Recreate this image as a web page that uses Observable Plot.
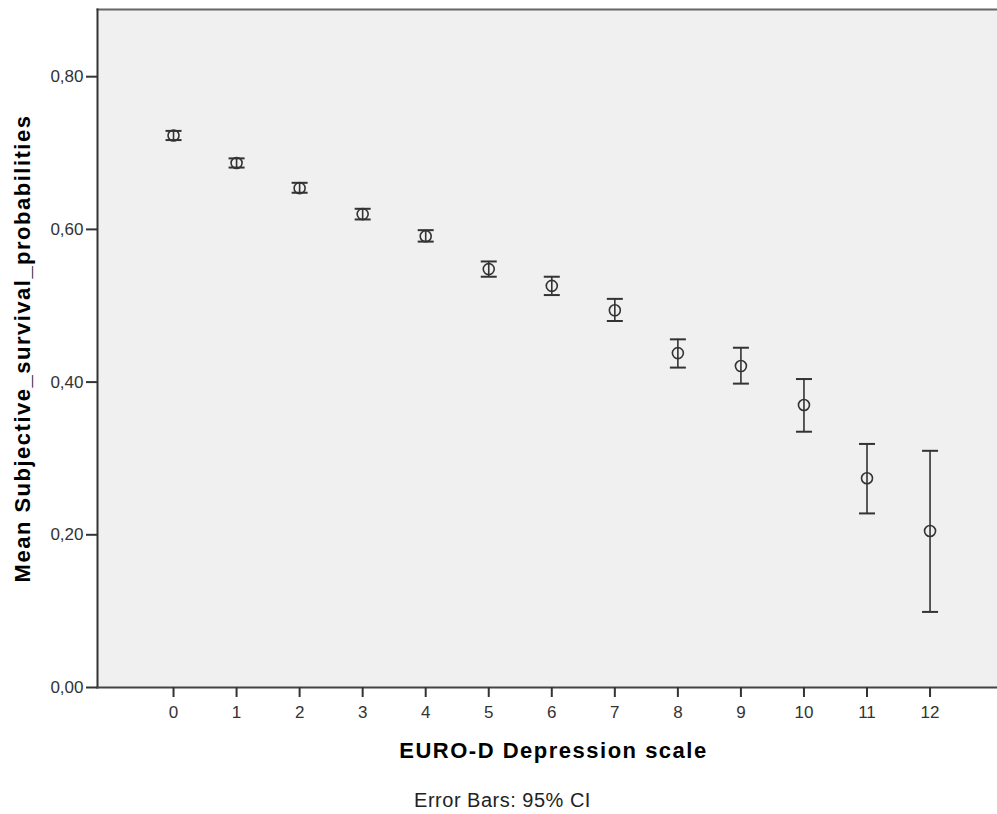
<!DOCTYPE html>
<html>
<head>
<meta charset="utf-8">
<script src="https://cdn.jsdelivr.net/npm/d3@7"></script>
<script src="https://cdn.jsdelivr.net/npm/@observablehq/plot@0.6"></script>
<style>
  html, body { margin: 0; padding: 0; background: #ffffff; }
</style>
</head>
<body>
<div id="chart"></div>
<script>
// EURO-D depression scale scores
const scores = [0, 1, 2, 3, 4, 5, 6, 7, 8, 9, 10, 11, 12];
// Mean subjective survival probability per score
const means = [0.723, 0.687, 0.654, 0.620, 0.591, 0.548, 0.526, 0.494, 0.438, 0.421, 0.370, 0.274, 0.205];
// 95% CI lower / upper bounds
const lower = [0.717, 0.681, 0.648, 0.613, 0.584, 0.538, 0.514, 0.480, 0.419, 0.398, 0.335, 0.228, 0.099];
const upper = [0.729, 0.693, 0.661, 0.627, 0.599, 0.558, 0.538, 0.509, 0.456, 0.445, 0.404, 0.319, 0.310];
// Axis ticks
const yTicks = [0, 0.2, 0.4, 0.6, 0.8];
const xTicks = scores;

const xLabel = "EURO-D Depression scale";
const yLabel = "Mean Subjective_survival_probabilities";
const caption = "Error Bars: 95% CI";

const data = scores.map((s, i) => ({score: s, mean: means[i], lo: lower[i], hi: upper[i]}));

const capSymbol = {
  draw(context, size) {
    const w = 8;
    context.moveTo(-w, 0);
    context.lineTo(w, 0);
  }
};

const ink = "#333333";

const chart = Plot.plot({
  width: 997,
  height: 814,
  marginTop: 9,
  marginLeft: 97,
  marginRight: 0,
  marginBottom: 127,
  style: {fontFamily: "'Liberation Sans', Arial, sans-serif", fontSize: "17px", color: ink, background: "#ffffff"},
  x: {domain: [-1.206, 13.07], axis: null},
  y: {domain: [0, 0.888], axis: null},
  marks: [
    Plot.frame({fill: "#f0f0f0", stroke: "none"}),
    Plot.frame({anchor: "top", stroke: "#666", strokeWidth: 2}),
    Plot.frame({anchor: "left", stroke: "#333", strokeWidth: 2}),
    Plot.frame({anchor: "bottom", stroke: "#444", strokeWidth: 2}),
    Plot.axisY({ticks: yTicks, tickSize: 11, tickPadding: 3, tickFormat: d => d.toFixed(2).replace(".", ","), stroke: "#333", strokeWidth: 2, fill: ink, fontSize: 17, label: null}),
    Plot.axisX({ticks: xTicks, tickSize: 10, tickPadding: 8, tickFormat: d => String(d), stroke: "#333", strokeWidth: 2, fill: ink, fontSize: 17, label: null}),
    Plot.ruleX(data, {x: "score", y1: "lo", y2: "hi", stroke: ink, strokeWidth: 1.6}),
    Plot.dot(data, {x: "score", y: "lo", symbol: capSymbol, stroke: ink, strokeWidth: 2, fill: "none", r: 8}),
    Plot.dot(data, {x: "score", y: "hi", symbol: capSymbol, stroke: ink, strokeWidth: 2, fill: "none", r: 8}),
    Plot.dot(data, {x: "score", y: "mean", r: 5.5, stroke: ink, strokeWidth: 1.6, fill: "none"}),
    Plot.text([yLabel], {frameAnchor: "left", rotate: -90, dx: -75, textAnchor: "middle", lineAnchor: "middle", fontSize: 22, fontWeight: "bold", fill: "#000"}),
    Plot.text([xLabel], {frameAnchor: "bottom", dx: 6, dy: 63, textAnchor: "middle", lineAnchor: "middle", fontSize: 22, fontWeight: "bold", fill: "#000"}),
    Plot.text([caption], {frameAnchor: "bottom", dx: -45, dy: 113, textAnchor: "middle", lineAnchor: "middle", fontSize: 20, fill: "#222"})
  ]
});

// letter spacing to mimic the stretched SPSS text
chart.querySelectorAll("text").forEach(t => {
  const s = t.textContent;
  if (s === yLabel || s === xLabel) t.setAttribute("letter-spacing", "1.5");
  if (s === caption) t.setAttribute("letter-spacing", "0.5");
});

document.getElementById("chart").appendChild(chart);
</script>
</body>
</html>
